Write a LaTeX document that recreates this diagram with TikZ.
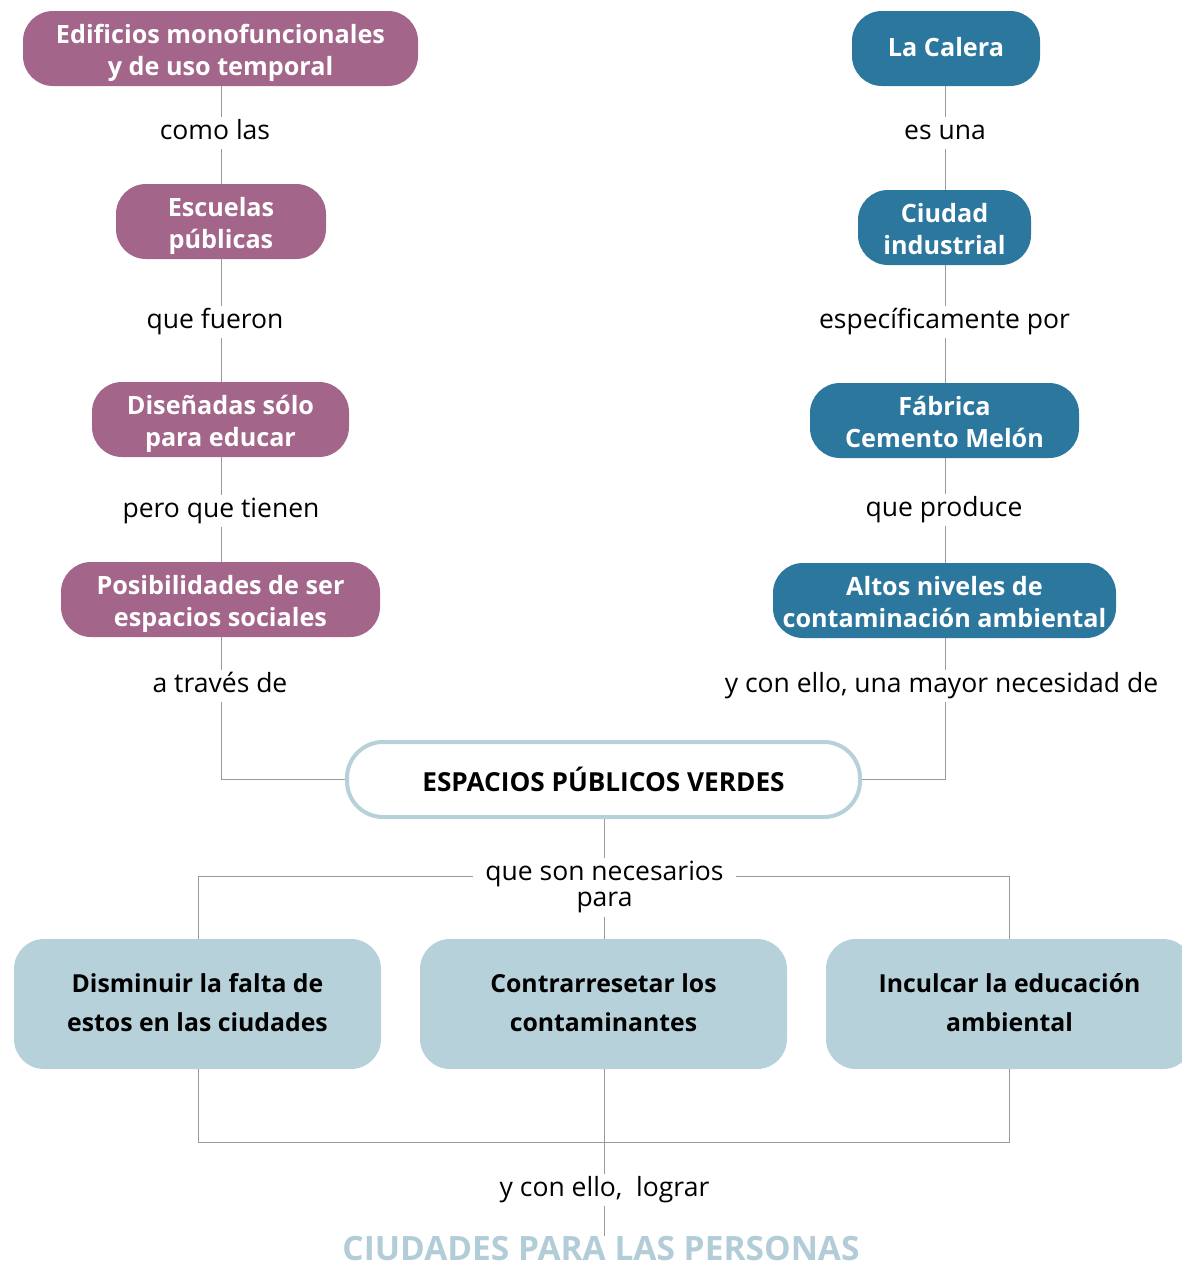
\documentclass[tikz,border=0pt]{standalone}
\usepackage{fontspec}
\setmainfont{Open Sans}
\definecolor{purp}{HTML}{A3668A}
\definecolor{blu}{HTML}{2B779E}
\definecolor{lblu}{HTML}{B7D1DA}
\definecolor{ttl}{HTML}{B2CDD7}
\definecolor{conn}{HTML}{9A9A9A}
\newcommand\twoline[2][0pt]{\raisebox{#1}[\height][\depth]{\begin{tabular}{@{}c@{}}#2\end{tabular}}}
\tikzset{
  topbox/.style={text=white, font=\fontsize{25.2}{32}\selectfont\bfseries, rounded corners=30pt, inner sep=0pt, minimum height=75pt},
  pbox/.style={topbox, fill=purp},
  bbox/.style={topbox, fill=blu},
  gbox/.style={fill=lblu, text=black, font=\fontsize{24.8}{39}\selectfont\bfseries, rounded corners=30pt, inner sep=0pt, minimum width=367pt, minimum height=130pt},
  lbl/.style={fill=white, text=black, font=\fontsize{26.5}{30}\selectfont, anchor=base, text height=19pt, text depth=7pt, inner xsep=12pt, inner ysep=3pt},
  conline/.style={draw=conn, line width=1pt},
}
\begin{document}
\begin{tikzpicture}[x=1pt,y=-1pt]
\useasboundingbox (0,0) rectangle (1182,1267);
% left column
\node[pbox, minimum width=395pt] (l1) at (220.5,48.5) {\twoline[-5pt]{Edificios monofuncionales\\y de uso temporal}};
\node[pbox, minimum width=210pt] (l2) at (221,221.5) {\twoline[-5pt]{Escuelas\\públicas}};
\node[pbox, minimum width=257pt] (l3) at (220.5,419.5) {\twoline[-5pt]{Diseñadas sólo\\para educar}};
\node[pbox, minimum width=319pt] (l4) at (220.5,599.5) {\twoline[-5pt]{Posibilidades de ser\\espacios sociales}};
% right column
\node[bbox, minimum width=188pt] (r1) at (946,48.5) {\twoline[-2pt]{La Calera}};
\node[bbox, minimum width=173pt] (r2) at (944.5,227.5) {\twoline[-5pt]{Ciudad\\industrial}};
\node[bbox, minimum width=269pt] (r3) at (944.5,420.5) {\twoline[-5pt]{Fábrica\\Cemento Melón}};
\node[bbox, minimum width=343pt] (r4) at (944.5,600.5) {\twoline[-5pt]{Altos niveles de\\contaminación ambiental}};
% center
\node[draw=lblu, line width=4pt, fill=white, rounded corners=36pt, minimum width=513pt, minimum height=75pt, inner sep=0pt, text height=30pt, text depth=5.6pt, font=\fontsize{26.2}{30}\selectfont\bfseries] (c) at (603.5,779.5) {ESPACIOS PÚBLICOS VERDES};
% bottom boxes
\node[gbox] (g1) at (197.5,1004) {\twoline{Disminuir la falta de\\estos en las ciudades}};
\node[gbox] (g2) at (603.5,1004) {\twoline{Contrarresetar los\\contaminantes}};
\node[gbox] (g3) at (1009.5,1004) {\twoline{Inculcar la educación\\ambiental}};
\node[text=ttl, font=\fontsize{33.5}{36}\selectfont\bfseries, inner sep=0pt, anchor=base] (t) at (601,1260) {CIUDADES PARA LAS PERSONAS};
% connectors
\draw[conline] (l1.south -| 221,0) -- (221,0 |- l2.north);
\draw[conline] (l2.south) -- (l2.south |- l3.north);
\draw[conline] (l3.south -| 221,0) -- (221,0 |- l4.north);
\draw[conline] (l4.south -| 221,0) |- (c.west);
\draw[conline] (r1.south -| 945,0) -- (945,0 |- r2.north);
\draw[conline] (r2.south -| 945,0) -- (945,0 |- r3.north);
\draw[conline] (r3.south -| 945,0) -- (945,0 |- r4.north);
\draw[conline] (r4.south -| 945,0) |- (c.east);
\coordinate (hl) at (198,876);
\coordinate (hr) at (1009,876);
\draw[conline] (hl) -- (hr);
\draw[conline] (hl) -- (hl |- g1.north);
\draw[conline] (hr) -- (hr |- g3.north);
\draw[conline] (c.south -| 604,0) -- (604,0 |- g2.north);
\coordinate (bl) at (198,1142);
\coordinate (br) at (1009,1142);
\draw[conline] (g1.south -| bl) -- (bl) -- (br) -- (g3.south -| br);
\draw[conline] (g2.south -| 604,0) -- (604,0 |- t.north);
% labels
\node[lbl] (a1) at (215,139) {como las};
\node[lbl] (a2) at (215,328) {que fueron};
\node[lbl] (a3) at (221,517) {pero que tienen};
\node[lbl] (a4) at (220,692) {a través de};
\node[lbl] (b1) at (945,139) {es una};
\node[lbl] (b2) at (944.5,328) {específicamente por};
\node[lbl] (b3) at (944,516) {que produce};
\node[lbl] (b4) at (941.5,692) {y con ello, una mayor necesidad de};
\node[fill=white, font=\fontsize{26.5}{26}\selectfont, inner xsep=12pt, inner ysep=3pt] (m) at (604.5,887.8) {\twoline{que son necesarios\\para}};
\node[lbl] (y) at (604.5,1196) {y con ello,\ \ lograr};
\end{tikzpicture}
\end{document}
